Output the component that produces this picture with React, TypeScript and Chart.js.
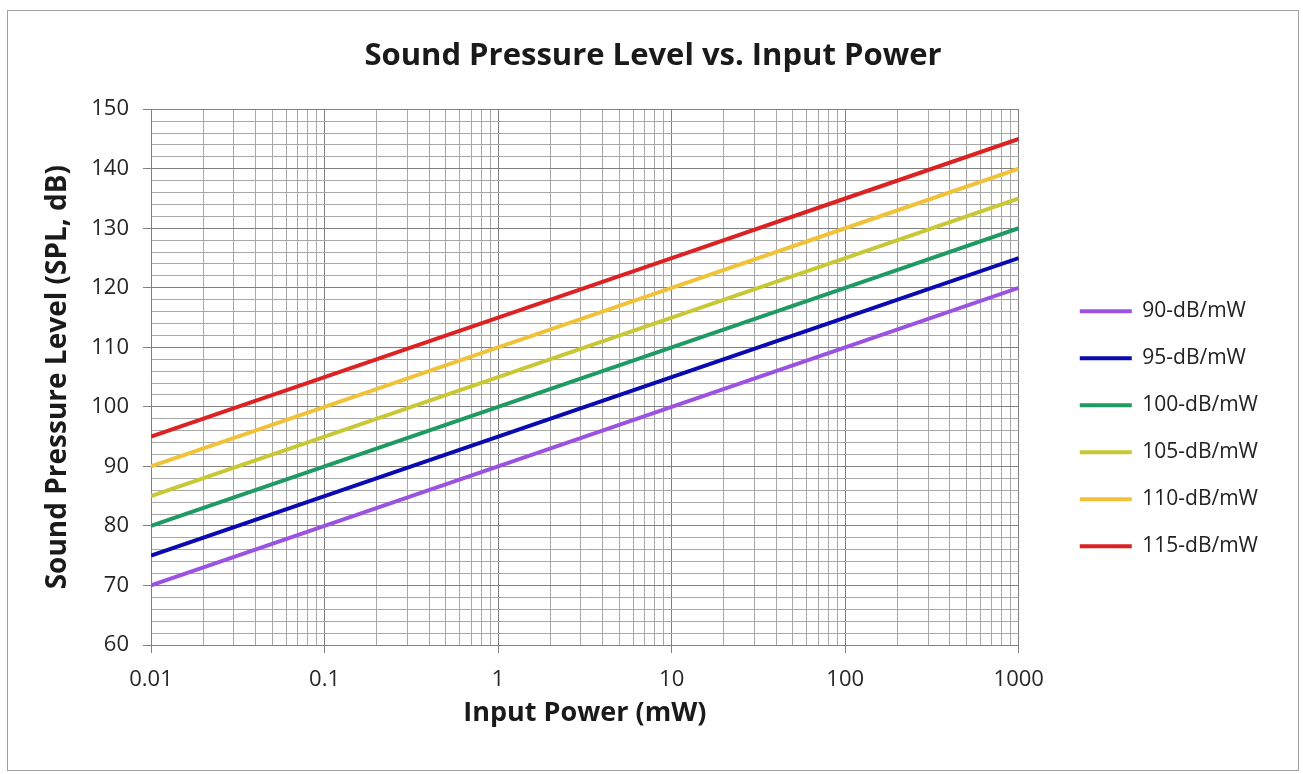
import React, { useEffect, useRef } from "react";
import { Chart, registerables } from "chart.js";

Chart.register(...registerables);

const TITLE = "Sound Pressure Level vs. Input Power";
const X_TITLE = "Input Power (mW)";
const Y_TITLE = "Sound Pressure Level (SPL, dB)";

// input power (mW) at each decade
const powerMw = [0.01, 0.1, 1, 10, 100, 1000];
const xTickLabels = ["0.01", "0.1", "1", "10", "100", "1000"];

const seriesNames = ["90-dB/mW", "95-dB/mW", "100-dB/mW", "105-dB/mW", "110-dB/mW", "115-dB/mW"];
const spl90 = [70, 80, 90, 100, 110, 120];
const spl95 = [75, 85, 95, 105, 115, 125];
const spl100 = [80, 90, 100, 110, 120, 130];
const spl105 = [85, 95, 105, 115, 125, 135];
const spl110 = [90, 100, 110, 120, 130, 140];
const spl115 = [95, 105, 115, 125, 135, 145];
const seriesValues = [spl90, spl95, spl100, spl105, spl110, spl115];
const seriesColors = ["#9b52e0", "#0a0ab0", "#1f9a62", "#c8c836", "#f0c23a", "#dc2222"];

const Y_MIN = 60;
const Y_MAX = 150;
const Y_STEP = 2;
const Y_LABEL_STEP = 10;

const FONT = "'Open Sans', Lato, sans-serif";
const MAJOR_GRID = "#808080";
const MINOR_GRID = "#a8a8a8";

function decadeIndex(v: number): number {
  for (let i = 0; i < powerMw.length; i++) {
    if (Math.abs(v - powerMw[i]) < powerMw[i] * 1e-9) return i;
  }
  return -1;
}

export default function App() {
  const ref = useRef<HTMLCanvasElement | null>(null);

  useEffect(() => {
    if (!ref.current) return;
    const datasets = seriesNames.map((name, i) => ({
      label: name,
      data: powerMw.map((p, j) => ({ x: p, y: seriesValues[i][j] })),
      borderColor: seriesColors[i],
      backgroundColor: seriesColors[i],
      borderWidth: 4,
      pointRadius: 0,
      pointHoverRadius: 0,
      pointStyle: "line" as const,
      tension: 0,
      fill: false,
    }));

    const chart = new Chart(ref.current, {
      type: "line",
      data: { datasets },
      options: {
        animation: false,
        responsive: false,
        maintainAspectRatio: false,
        layout: { padding: { left: 30, right: 30, top: 0, bottom: 0 } },
        plugins: {
          tooltip: { enabled: false },
          title: {
            display: true,
            text: TITLE,
            color: "#1a1a1a",
            font: { family: FONT, size: 31, weight: "bold" },
            padding: { top: 27, bottom: 34 },
          },
          legend: {
            display: true,
            position: "right",
            maxWidth: 260,
            title: { display: true, text: "", font: { size: 12 }, padding: { top: 62, bottom: 0 } },
            labels: {
              usePointStyle: true,
              pointStyle: "line",
              pointStyleWidth: 52,
              boxWidth: 52,
              padding: 26,
              color: "#222222",
              font: { family: FONT, size: 21 },
            },
          },
        },
        scales: {
          x: {
            type: "logarithmic",
            position: "bottom",
            min: powerMw[0],
            max: powerMw[powerMw.length - 1],
            offset: false,
            afterBuildTicks: (scale: any) => {
              const ticks: any[] = [];
              for (let d = 0; d < powerMw.length - 1; d++) {
                for (let k = 1; k <= 9; k++) {
                  const v = Math.round(k * powerMw[d] * 1e6) / 1e6;
                  ticks.push({ value: v, major: k === 1 });
                }
              }
              ticks.push({ value: powerMw[powerMw.length - 1], major: true });
              scale.ticks = ticks;
            },
            afterFit: (scale: any) => {
              scale.height = 125;
            },
            ticks: {
              autoSkip: false,
              maxRotation: 0,
              minRotation: 0,
              padding: 14,
              color: "#262626",
              font: { family: FONT, size: 22 },
              callback: (value: any) => {
                const i = decadeIndex(Number(value));
                return i >= 0 ? xTickLabels[i] : "";
              },
            },
            grid: {
              display: true,
              drawOnChartArea: true,
              drawTicks: true,
              tickLength: 8,
              lineWidth: 1,
              color: (ctx: any) => (ctx.tick && decadeIndex(ctx.tick.value) >= 0 ? MAJOR_GRID : MINOR_GRID),
              tickColor: (ctx: any) => (ctx.tick && decadeIndex(ctx.tick.value) >= 0 ? MAJOR_GRID : "rgba(0,0,0,0)"),
            },
            border: { display: true, color: MAJOR_GRID, width: 1 },
            title: {
              display: true,
              text: X_TITLE,
              color: "#1a1a1a",
              font: { family: FONT, size: 27, weight: "bold" },
              padding: { top: 0, bottom: 40 },
            },
          },
          y: {
            type: "linear",
            position: "left",
            min: Y_MIN,
            max: Y_MAX,
            afterFit: (scale: any) => {
              scale.width = 113;
            },
            ticks: {
              stepSize: Y_STEP,
              autoSkip: false,
              padding: 14,
              color: "#262626",
              font: { family: FONT, size: 22 },
              callback: (value: any) => (Number(value) % Y_LABEL_STEP === 0 ? String(value) : ""),
            },
            grid: {
              display: true,
              drawTicks: true,
              tickLength: 8,
              lineWidth: 1,
              color: (ctx: any) => (ctx.tick && ctx.tick.value % Y_LABEL_STEP === 0 ? MAJOR_GRID : MINOR_GRID),
              tickColor: (ctx: any) => (ctx.tick && ctx.tick.value % Y_LABEL_STEP === 0 ? MAJOR_GRID : "rgba(0,0,0,0)"),
            },
            border: { display: true, color: MAJOR_GRID, width: 1 },
            title: {
              display: true,
              text: Y_TITLE,
              color: "#1a1a1a",
              font: { family: FONT, size: 28, weight: "bold" },
              padding: { top: 3, bottom: 0 },
            },
          },
          gap: {
            type: "linear",
            position: "right",
            display: true,
            afterFit: (scale: any) => {
              scale.width = 35;
            },
            ticks: { display: false },
            grid: { display: false },
            border: { display: false },
          },
        },
      } as any,
    });
    return () => chart.destroy();
  }, []);

  return (
    <div
      style={{
        position: "absolute",
        left: 7,
        top: 10,
        width: 1292,
        height: 761,
        boxSizing: "border-box",
        border: "1px solid #a0a0a0",
        background: "#ffffff",
      }}
    >
      <canvas ref={ref} width={1290} height={759} style={{ display: "block", width: 1290, height: 759 }} />
    </div>
  );
}
